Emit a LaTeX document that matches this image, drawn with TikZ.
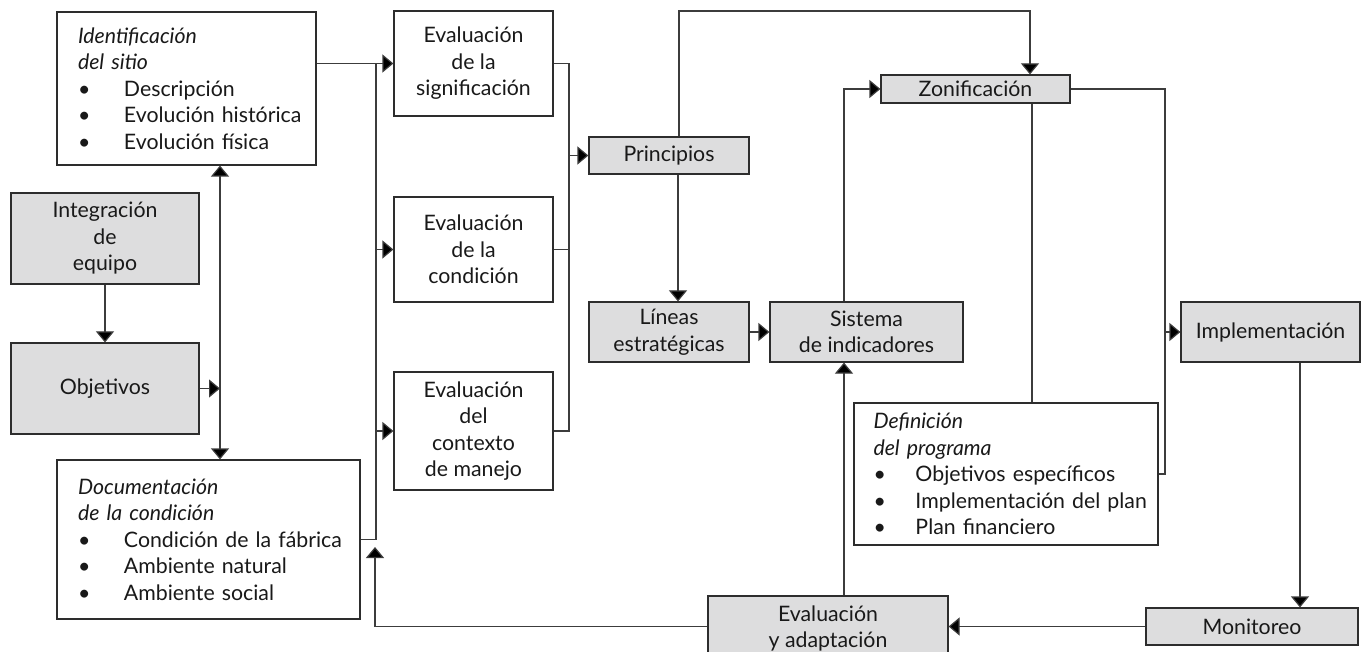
\documentclass[tikz,border=0pt]{standalone}
\usepackage{fontspec}
\setmainfont{Lato}
\usetikzlibrary{arrows.meta}
\definecolor{boxgray}{RGB}{221,221,222}
\definecolor{linegray}{RGB}{60,60,60}
\definecolor{bordergray}{RGB}{45,45,45}
\newcommand\itmA[1]{\makebox[46pt][l]{\textbullet}\mbox{#1}}
\newcommand\itmB[1]{\makebox[42pt][l]{\textbullet}\mbox{#1}}
\hbadness=10000 \hfuzz=200pt
\begin{document}
\begin{tikzpicture}[x=1pt,y=-1pt,
  font=\fontsize{21.3}{26.5}\selectfont,
  box/.style={draw=bordergray, line width=1.2pt, fill=white, inner sep=0pt, align=center, text=black!90},
  gbox/.style={box, fill=boxgray},
  conn/.style={draw=linegray, line width=1.2pt},
  tip/.tip={Triangle[length=11pt,width=18pt,fill=black]},
  arr/.style={conn, -tip},
  darr/.style={conn, tip-tip},
]
\useasboundingbox (0,0) rectangle (1363,652);

% left column
\node[box, minimum width=259pt, minimum height=153pt, text width=217pt, align=left] (ident) at (186.5,88.5)
  {{\itshape Identificación}\\{\itshape del sitio}\\\itmA{Descripción}\\\itmA{Evolución histórica}\\\itmA{Evolución física}};
\node[gbox, minimum width=188pt, minimum height=91pt] (integ) at (105,238.5) {Integración\\de\\equipo};
\node[gbox, minimum width=188pt, minimum height=91pt] (obj) at (105,388.5) {Objetivos};
\node[box, minimum width=303pt, minimum height=159pt, text width=261pt, align=left] (doc) at (208.5,539.5)
  {{\itshape Documentación}\\{\itshape de la condición}\\\itmA{Condición de la fábrica}\\\itmA{Ambiente natural}\\\itmA{Ambiente social}};

% evaluation column
\node[box, minimum width=159pt, minimum height=105pt] (evsig) at (473.5,63.5) {Evaluación\\de la\\significación};
\node[box, minimum width=159pt, minimum height=105pt] (evcond) at (473.5,249.5) {Evaluación\\de la\\condición};
\node[box, minimum width=159pt, minimum height=118pt] (evctx) at (473.5,431) {Evaluación\\del\\contexto\\de manejo};

% middle
\node[gbox, minimum width=160pt, minimum height=37pt] (princ) at (669,155.5) {Principios};
\node[gbox, minimum width=160pt, minimum height=60pt] (lineas) at (669,332) {Líneas\\estratégicas};
\node[gbox, minimum width=193pt, minimum height=60pt] (sist) at (866.5,332) {Sistema\\de indicadores};
\node[gbox, minimum width=189pt, minimum height=28pt] (zon) at (975.5,89) {Zonificación};
\node[gbox, minimum width=179pt, minimum height=60pt] (impl) at (1270.5,332) {Implementación};
\node[box, minimum width=304pt, minimum height=142pt, text width=265pt, align=left] (def) at (1006,474)
  {{\itshape Definición}\\{\itshape del programa}\\\itmB{Objetivos específicos}\\\itmB{Implementación del plan}\\\itmB{Plan financiero}};
\node[gbox, minimum width=212pt, minimum height=37pt] (monit) at (1252,626.5) {Monitoreo};
\node[gbox, minimum width=240pt, minimum height=65pt] (evad) at (828,628.5) {Evaluación\\y adaptación};

% helper coordinates
\coordinate (bustop) at (376,63.5);
\coordinate (v) at (220,0);
\coordinate (bus2) at (569,0);
\coordinate (ptop) at (679,11);
\coordinate (ztop) at (1030,11);
\coordinate (lx) at (678,0);
\coordinate (sx) at (844,0);
\coordinate (rx) at (1165,0);
\coordinate (zx) at (1032,0);
\coordinate (mx) at (1300,0);
\coordinate (fb) at (375,547);

% connectors
\draw[arr] (ident.east |- evsig.west) -- (evsig.west);
\draw[conn] (doc.east) -- (doc.east -| bustop) -- (bustop);
\draw[arr] (bustop |- evcond.west) -- (evcond.west);
\draw[arr] (bustop |- evctx.west) -- (evctx.west);
\draw[arr] (integ.south) -- (obj.north);
\draw[arr] (obj.east) -- (obj.east -| v);
\draw[darr] (ident.south -| v) -- (doc.north -| v);
\draw[conn] (evsig.east) -- (evsig.east -| bus2) -- (bus2 |- evctx.east) -- (evctx.east);
\draw[conn] (evcond.east) -- (evcond.east -| bus2);
\draw[arr] (bus2 |- princ.west) -- (princ.west);
\draw[arr] (princ.north -| ptop) -- (ptop) -- (ztop) -- (zon.north -| ztop);
\draw[arr] (princ.south -| lx) -- (lineas.north -| lx);
\draw[arr] (lineas.east) -- (sist.west);
\draw[arr] (sist.north -| sx) -- (sx |- zon.west) -- (zon.west);
\draw[conn] (zon.east) -- (zon.east -| rx) -- (rx |- def.east) -- (def.east);
\draw[arr] (rx |- impl.west) -- (impl.west);
\draw[conn] (zon.south -| zx) -- (def.north -| zx);
\draw[arr] (impl.south -| mx) -- (monit.north -| mx);
\draw[arr] (monit.west) -- (evad.east |- monit.west);
\draw[arr] (evad.north -| sx) -- (sist.south -| sx);
\draw[arr] (evad.west |- monit.west) -- (fb |- monit.west) -- (fb);
\end{tikzpicture}
\end{document}
